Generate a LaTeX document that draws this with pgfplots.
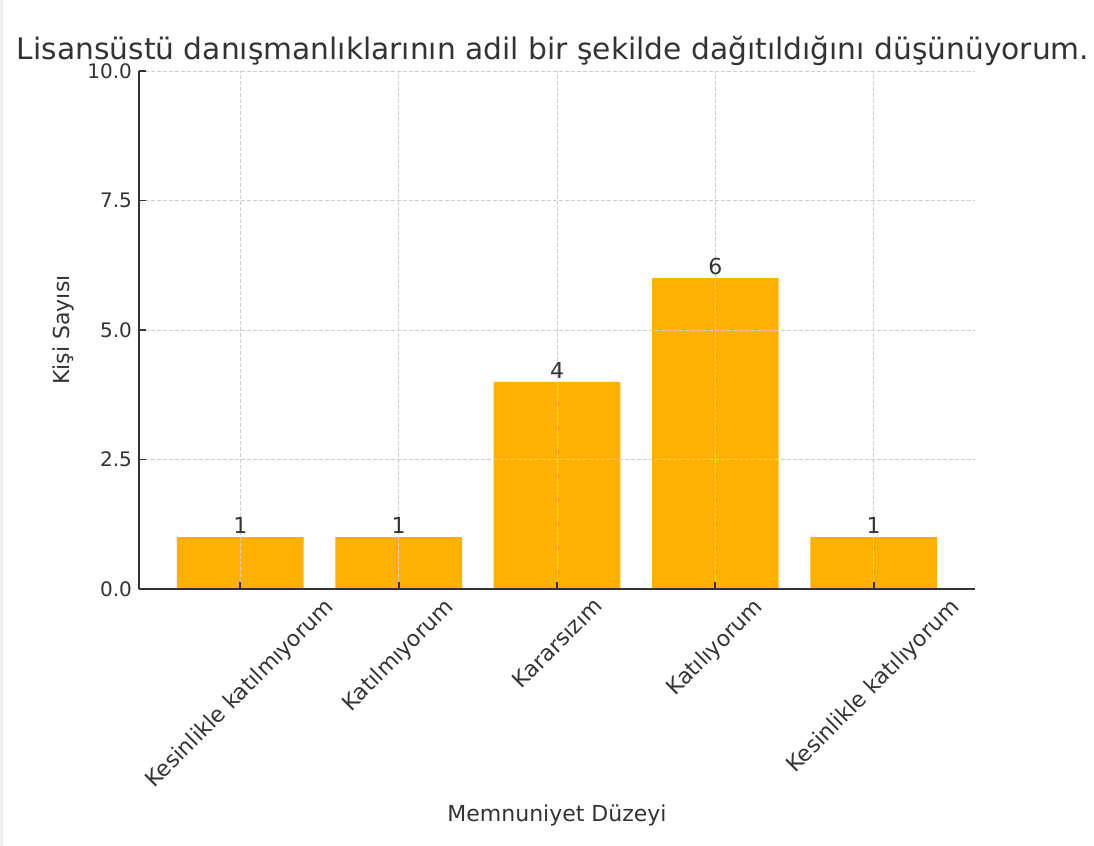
\documentclass[border=0pt]{standalone}
\usepackage{fontspec}
\setmainfont{DejaVu Sans}
\usepackage{graphicx}
\usepackage{pgfplots}
\pgfplotsset{compat=1.18}
\definecolor{barc}{HTML}{FFB000}
\definecolor{txt}{HTML}{333333}
\definecolor{gridc}{HTML}{CCCCCC}
\begin{document}
\begin{tikzpicture}
\path[use as bounding box] (-69.5pt,-128.5pt) rectangle (477.5pt,294.5pt);
\fill[black!6] (-69.5pt,-128.5pt) rectangle (-68pt,294.5pt);
\begin{axis}[
  at={(0,0)}, anchor=south west,
  scale only axis, width=418pt, height=259pt,
  xmin=-0.64, xmax=4.64, ymin=0, ymax=10,
  axis x line*=bottom, axis y line*=left,
  axis line style={txt, line width=0.9pt, -},
  tick style={txt, line width=0.9pt},
  tick align=inside, major tick length=3.5pt,
  xtick={0,1,2,3,4},
  xticklabels={\rotatebox{45}{Kesinlikle katılmıyorum},\rotatebox{45}{Katılmıyorum},\rotatebox{45}{Kararsızım},\rotatebox{45}{Katılıyorum},\rotatebox{45}{Kesinlikle katılıyorum}},
  ytick={0,2.5,5,7.5,10},
  yticklabel style={/pgf/number format/fixed, /pgf/number format/fixed zerofill, /pgf/number format/precision=1, font=\fontsize{10}{12}\selectfont, text=txt},
  xticklabel style={anchor=north, inner sep=3.5pt, font=\fontsize{11}{13}\selectfont, text=txt},
  /pgf/number format/assume math mode=true,
  grid=major, grid style={gridc, dash pattern=on 2pt off 1pt, line width=0.4pt},
  axis on top,
  title={Lisansüstü danışmanlıklarının adil bir şekilde dağıtıldığını düşünüyorum.},
  title style={at={(0.5,1)}, anchor=base, yshift=-0.5pt, xshift=-2pt, font=\fontsize{14.85}{18}\selectfont, text=txt},
  xlabel={Memnuniyet Düzeyi},
  xlabel style={at={(axis description cs:0.5,0)}, anchor=center, yshift=-113pt, font=\fontsize{11}{13}\selectfont, text=txt},
  ylabel={Kişi Sayısı},
  ylabel style={at={(axis description cs:0,0.5)}, anchor=center, yshift=38pt, font=\fontsize{11}{13}\selectfont, text=txt},
]
\addplot[ybar, bar width=0.8, fill=barc, draw=none,
  nodes near coords,
  nodes near coords style={font=\fontsize{11}{13}\selectfont, text=txt, inner sep=1.5pt, anchor=south}]
  coordinates {(0,1) (1,1) (2,4) (3,6) (4,1)};
\end{axis}
\end{tikzpicture}
\end{document}
